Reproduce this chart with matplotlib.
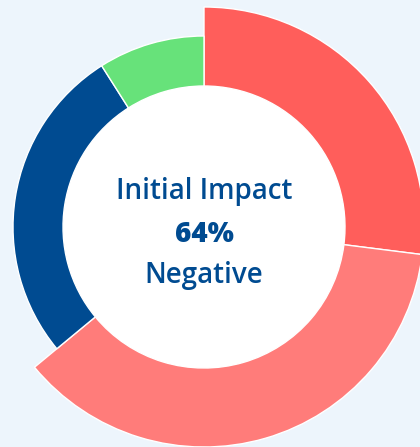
import matplotlib
matplotlib.use("Agg")
import matplotlib.pyplot as plt

# Share of responses by initial impact (percent), clockwise from 12 o'clock
categories = ["Very negative", "Somewhat negative", "Neutral", "Positive"]
shares = [27, 37, 27, 9]
colors = ["#ff5e5b", "#ff7c7a", "#004b91", "#67e27a"]
# Negative segments are drawn with the larger outer radius
emphasized = [True, True, False, False]

title_line = "Initial Impact"
value_line = "64%"
label_line = "Negative"

bg = "#edf5fc"
text_color = "#004b91"

fig = plt.figure(figsize=(4.2, 4.47), dpi=100, facecolor=bg)
ax = fig.add_axes([0, 0, 1, 1])
ax.set_facecolor(bg)

center = (204, 220)
inner_r = 141
big_r = 220
small_r = 191

big_colors = [c if e else "none" for c, e in zip(colors, emphasized)]
small_colors = [c if not e else "none" for c, e in zip(colors, emphasized)]

ax.pie(shares, colors=big_colors, radius=big_r, center=center,
       startangle=90, counterclock=False, frame=True,
       wedgeprops=dict(width=big_r - inner_r, edgecolor="white", linewidth=1))
ax.pie(shares, colors=small_colors, radius=small_r, center=center,
       startangle=90, counterclock=False, frame=True,
       wedgeprops=dict(width=small_r - inner_r, edgecolor="white", linewidth=1))
# hidden wedges carry no outline
for w in ax.patches:
    if w.get_facecolor()[3] == 0:
        w.set_edgecolor("none")

ax.add_patch(plt.Circle(center, inner_r, color="white", zorder=0.5))

ax.set_xlim(0, 420)
ax.set_ylim(0, 447)
ax.set_aspect("equal")
ax.axis("off")

font = ["Open Sans", "DejaVu Sans"]
ax.text(center[0], 447 - 191, title_line, ha="center", va="center",
        fontsize=20, color=text_color, family=font, fontweight="semibold")
ax.text(center[0], 447 - 234, value_line, ha="center", va="center",
        fontsize=20, color=text_color, family=font, fontweight="heavy")
ax.text(center[0], 447 - 276, label_line, ha="center", va="center",
        fontsize=20, color=text_color, family=font, fontweight="semibold")

fig.savefig("out.png", dpi=100, facecolor=bg)
